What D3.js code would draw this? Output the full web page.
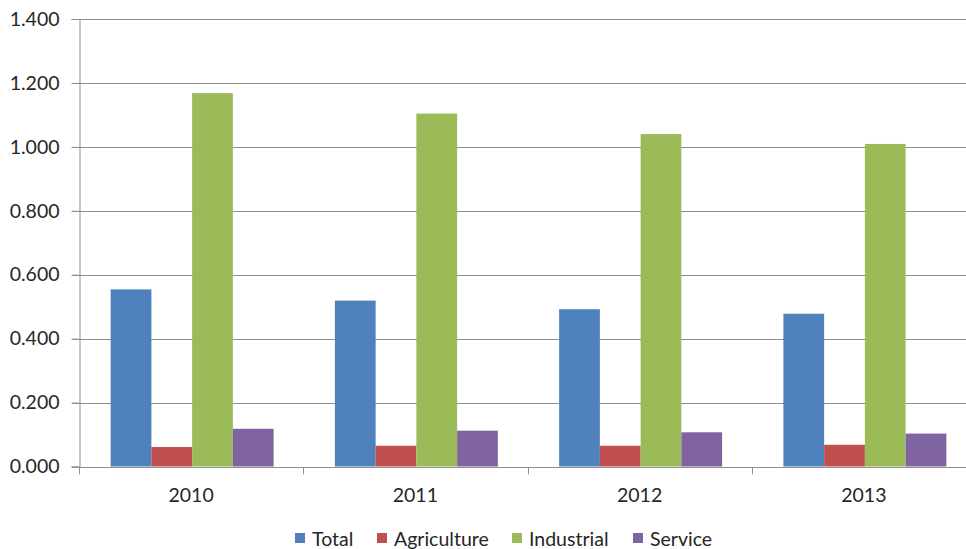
<!DOCTYPE html>
<html>
<head>
<meta charset="utf-8">
<script src="https://cdn.jsdelivr.net/npm/d3@7/dist/d3.min.js"></script>
<style>
  html, body { margin: 0; padding: 0; background: #fff; }
  svg { display: block; font-family: Lato, "Open Sans", sans-serif; }
</style>
</head>
<body>
<svg id="chart" width="966" height="549"></svg>
<script>
// Data
const years = ["2010", "2011", "2012", "2013"];
const seriesNames = ["Total", "Agriculture", "Industrial", "Service"];
const totalValues = [0.554, 0.519, 0.492, 0.478];
const agricultureValues = [0.061, 0.065, 0.065, 0.068];
const industrialValues = [1.168, 1.104, 1.040, 1.009];
const serviceValues = [0.118, 0.112, 0.107, 0.103];
const yTicks = [0, 0.2, 0.4, 0.6, 0.8, 1.0, 1.2, 1.4];
const colors = ["#4F81BD", "#C0504D", "#9BBB59", "#8064A2"];

const valuesBySeries = [totalValues, agricultureValues, industrialValues, serviceValues];

const svg = d3.select("#chart");
const margin = { left: 80, top: 19, bottom: 466.5 };
const plotRight = 977;

const y = d3.scaleLinear().domain([0, 1.4]).range([margin.bottom, margin.top]);
const x0 = d3.scaleBand().domain(years).range([margin.left, plotRight]).paddingInner(0).paddingOuter(0);
const x1 = d3.scaleBand().domain(seriesNames).range([0, x0.bandwidth()]).paddingInner(0).paddingOuter(0.752);
const color = d3.scaleOrdinal().domain(seriesNames).range(colors);

const fmt = d3.format(".3f");
const textColor = "#262626";
const gridColor = "#8f8f8f";
const fontSize = "19.5px";

// Horizontal gridlines
svg.append("g")
  .selectAll("line")
  .data(yTicks.filter(d => d > 0))
  .join("line")
  .attr("x1", margin.left - 8)
  .attr("x2", plotRight)
  .attr("y1", d => Math.round(y(d)) + 0.5)
  .attr("y2", d => Math.round(y(d)) + 0.5)
  .attr("stroke", gridColor)
  .attr("stroke-width", 1);

// Bars
const groups = svg.append("g")
  .selectAll("g")
  .data(years)
  .join("g")
  .attr("transform", d => `translate(${x0(d)},0)`);

groups.selectAll("rect")
  .data((d, i) => seriesNames.map((s, k) => ({ series: s, value: valuesBySeries[k][i] })))
  .join("rect")
  .attr("x", d => x1(d.series))
  .attr("width", x1.bandwidth())
  .attr("y", d => y(d.value))
  .attr("height", d => y(0) - y(d.value))
  .attr("fill", d => color(d.series));

// Y axis
const yAxis = svg.append("g")
  .attr("transform", `translate(${margin.left - 0.5},0)`)
  .call(d3.axisLeft(y).tickValues(yTicks).tickFormat(fmt).tickSize(8).tickPadding(12));
yAxis.select(".domain").attr("stroke", gridColor);
yAxis.selectAll(".tick line").attr("stroke", gridColor);
yAxis.selectAll(".tick text")
  .attr("fill", textColor)
  .style("font-size", fontSize)
  .style("font-family", "Lato, 'Open Sans', sans-serif");

// X axis with tick marks at category boundaries
const xAxisG = svg.append("g")
  .attr("transform", `translate(0,${Math.round(y(0)) + 0.5})`);
xAxisG.append("line")
  .attr("x1", margin.left - 8)
  .attr("x2", plotRight)
  .attr("stroke", gridColor);
xAxisG.selectAll("line.bound")
  .data(years.map(d => x0(d)).concat([plotRight]))
  .join("line")
  .attr("class", "bound")
  .attr("x1", d => Math.round(d) - 0.5)
  .attr("x2", d => Math.round(d) - 0.5)
  .attr("y1", 0)
  .attr("y2", 7)
  .attr("stroke", gridColor);
xAxisG.selectAll("text")
  .data(years)
  .join("text")
  .attr("x", d => x0(d) + x0.bandwidth() / 2 - 1)
  .attr("y", 34)
  .attr("text-anchor", "middle")
  .attr("fill", textColor)
  .style("font-size", fontSize)
  .text(d => d);

// Legend
const legendX = [295, 377, 512, 633];
const legend = svg.append("g")
  .selectAll("g")
  .data(seriesNames)
  .join("g")
  .attr("transform", (d, i) => `translate(${legendX[i]},533)`);
legend.append("rect")
  .attr("width", 10)
  .attr("height", 10)
  .attr("fill", d => color(d));
legend.append("text")
  .attr("x", 17)
  .attr("y", 12.5)
  .attr("fill", textColor)
  .style("font-size", fontSize)
  .text(d => d);
</script>
</body>
</html>
